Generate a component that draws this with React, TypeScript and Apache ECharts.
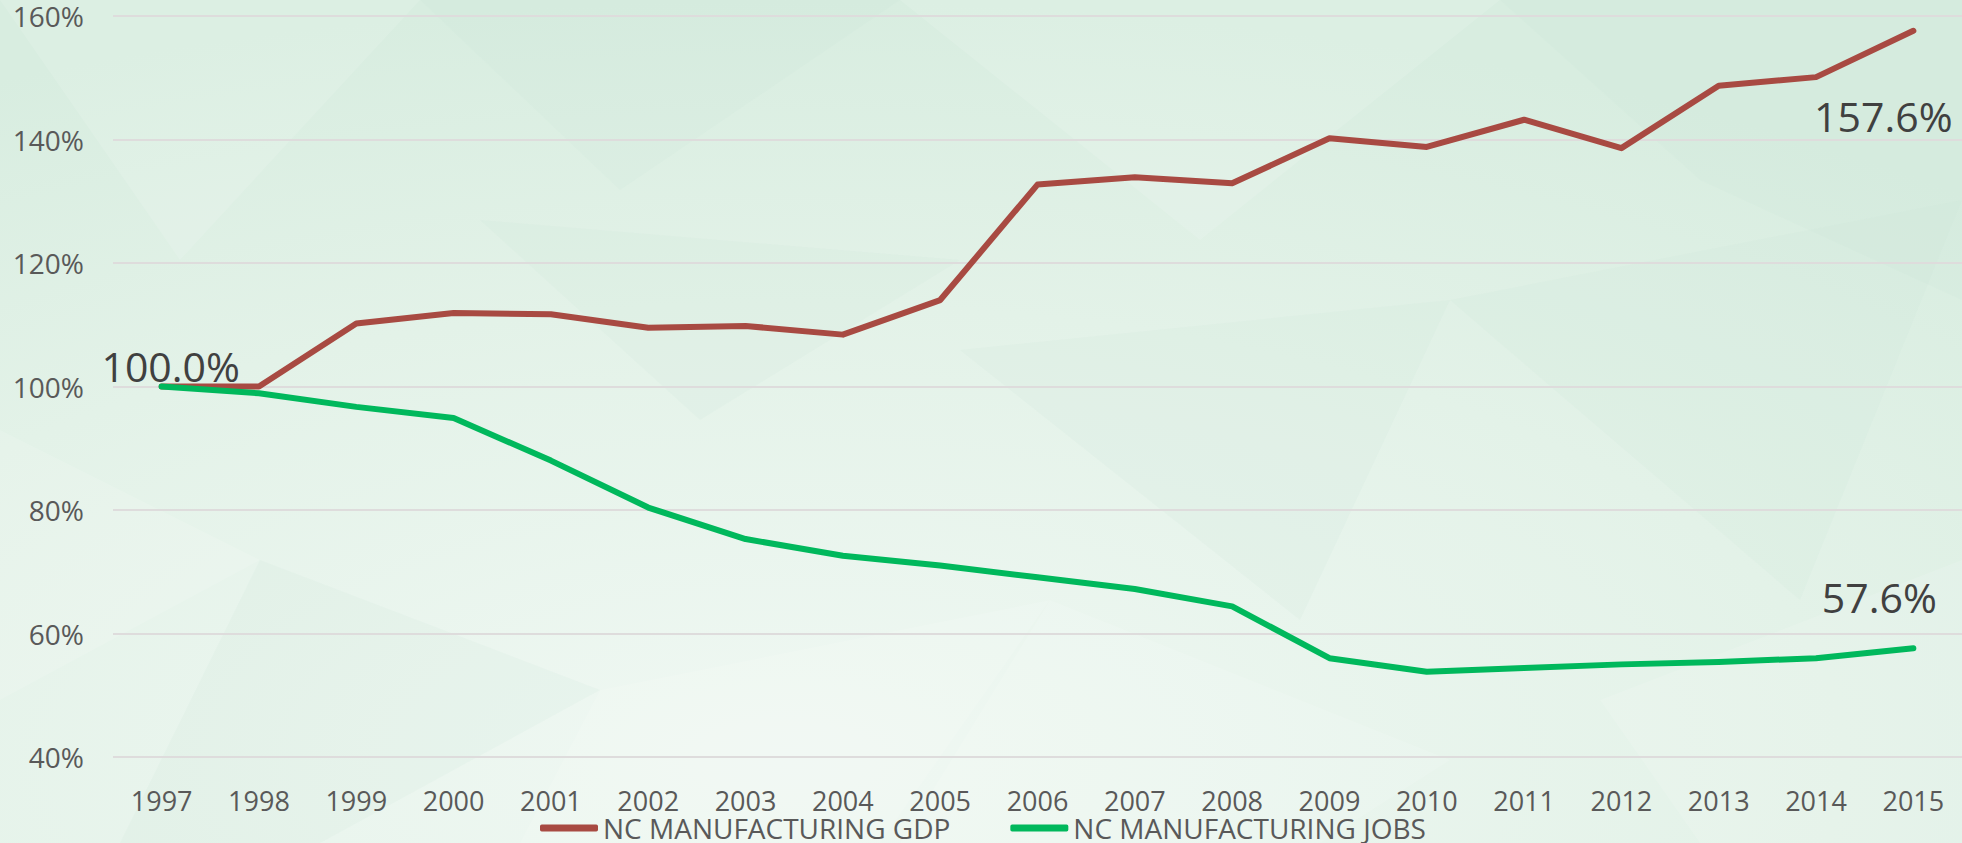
import React, { useEffect, useRef } from "react";
import * as echarts from "echarts";

const years = ["1997","1998","1999","2000","2001","2002","2003","2004","2005","2006","2007","2008","2009","2010","2011","2012","2013","2014","2015"];
const gdpValues = [100, 100, 110.2, 111.9, 111.7, 109.5, 109.8, 108.4, 114.0, 132.7, 133.9, 132.9, 140.2, 138.8, 143.2, 138.6, 148.7, 150.1, 157.6];
const jobsValues = [100, 98.9, 96.7, 94.9, 88.0, 80.4, 75.3, 72.6, 71.0, 69.1, 67.2, 64.4, 56.0, 53.8, 54.4, 55.0, 55.4, 56.0, 57.6];
const seriesNames = ["NC MANUFACTURING GDP", "NC MANUFACTURING JOBS"];
const yMin = 40;
const yMax = 160;
const yStep = 20;

const FONT = "'Open Sans', sans-serif";

const bgPolys: number[][][] = [
  [[0, 0], [420, 0], [180, 260]],
  [[420, 0], [900, 0], [620, 190]],
  [[900, 0], [1500, 0], [1200, 240]],
  [[1500, 0], [1962, 0], [1962, 300], [1700, 180]],
  [[0, 430], [260, 560], [0, 700]],
  [[260, 560], [600, 690], [320, 843], [120, 843]],
  [[600, 690], [1050, 600], [880, 843], [520, 843]],
  [[960, 350], [1450, 300], [1300, 620]],
  [[1050, 600], [1450, 760], [1320, 843], [900, 843]],
  [[1450, 300], [1962, 200], [1800, 600]],
  [[1600, 700], [1962, 560], [1962, 843], [1700, 843]],
  [[480, 220], [960, 260], [700, 420]],
];

export default function App() {
  const ref = useRef<HTMLDivElement>(null);

  useEffect(() => {
    if (!ref.current) return;
    const chart = echarts.init(ref.current, undefined, { renderer: "svg" });

    const labelStyle = {
      show: true,
      fontFamily: FONT,
      fontSize: 41,
      color: "#404040",
      position: "inside",
      align: "center",
      verticalAlign: "middle",
      formatter: (p: any) => p.value.toFixed(1) + "%",
    };

    const gdpData = gdpValues.map((v, i) => {
      if (i === 0) return { value: v, label: { ...labelStyle, offset: [9, -21] } };
      if (i === gdpValues.length - 1) return { value: v, label: { ...labelStyle, offset: [-30, 85] } };
      return v;
    });
    const jobsData = jobsValues.map((v, i) => {
      if (i === jobsValues.length - 1) return { value: v, label: { ...labelStyle, offset: [-34, -51] } };
      return v;
    });

    chart.setOption({
      animation: false,
      backgroundColor: {
        type: "radial",
        x: 0.4,
        y: 0.9,
        r: 0.9,
        colorStops: [
          { offset: 0, color: "#f0f8f3" },
          { offset: 0.6, color: "#e3f2e8" },
          { offset: 1, color: "#d8ede0" },
        ],
      },
      graphic: bgPolys.map((pts, i) => ({
        type: "polygon",
        z: -10,
        silent: true,
        shape: { points: pts },
        style: { fill: i % 2 === 0 ? "rgba(255,255,255,0.12)" : "rgba(200,230,212,0.15)" },
      })),
      grid: { left: 113, top: 16, width: 1856, height: 741, containLabel: false },
      legend: {
        data: seriesNames,
        left: 535,
        top: 809,
        itemWidth: 58,
        itemHeight: 7,
        itemGap: 60,
        icon: "roundRect",
        textStyle: { fontFamily: FONT, fontSize: 28, color: "#595959" },
      },
      xAxis: {
        type: "category",
        data: years,
        boundaryGap: true,
        axisLine: { show: false },
        axisTick: { show: false },
        axisLabel: { fontFamily: FONT, fontSize: 27, color: "#595959", margin: 30 },
      },
      yAxis: {
        type: "value",
        min: yMin,
        max: yMax,
        interval: yStep,
        axisLine: { show: false },
        axisTick: { show: false },
        axisLabel: { fontFamily: FONT, fontSize: 28, color: "#595959", margin: 29, formatter: "{value}%" },
        splitLine: { lineStyle: { color: "#dedcdc", width: 2 } },
      },
      series: [
        {
          name: seriesNames[0],
          type: "line",
          data: gdpData,
          symbol: "circle",
          symbolSize: 1,
          showSymbol: true,
          itemStyle: { color: "#a84a42" },
          lineStyle: { color: "#a84a42", width: 6, cap: "round", join: "round" },
          z: 3,
        },
        {
          name: seriesNames[1],
          type: "line",
          data: jobsData,
          symbol: "circle",
          symbolSize: 1,
          showSymbol: true,
          itemStyle: { color: "#00b85c" },
          lineStyle: { color: "#00b85c", width: 6, cap: "round", join: "round" },
          z: 4,
        },
      ],
    });

    return () => chart.dispose();
  }, []);

  return (
    <div
      ref={ref}
      style={{ position: "absolute", left: 0, top: 0, width: 1962, height: 843 }}
    />
  );
}
